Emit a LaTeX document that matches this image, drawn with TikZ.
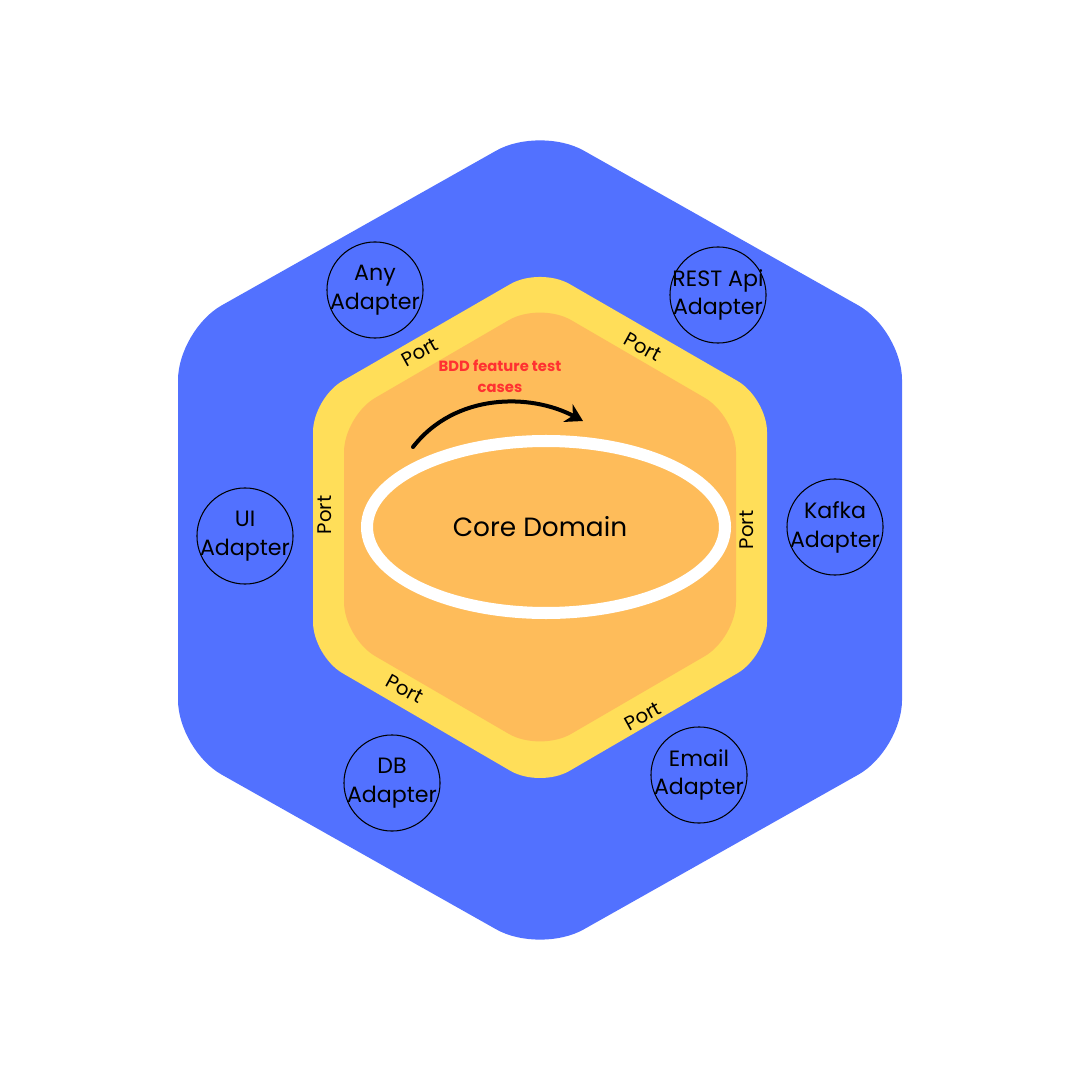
\documentclass[tikz,border=0pt]{standalone}
\usepackage{fontspec}
\setmainfont{Poppins}
\usetikzlibrary{arrows.meta}
\definecolor{hexblue}{HTML}{5271FF}
\definecolor{hexyellow}{HTML}{FFDE59}
\definecolor{hexorange}{HTML}{FEBC5A}
\definecolor{bddred}{HTML}{FF3131}
\begin{document}
\begin{tikzpicture}[x=0.01cm,y=-0.01cm,
    adaptertext/.style={align=center, inner sep=0pt, font=\fontsize{6.3}{8.2}\selectfont},
    adapter/.style={draw=black, line width=0.3pt, circle, minimum size=0.96cm, inner sep=0pt,
        label={[adaptertext]center:#1}},
    portlbl/.style={font=\fontsize{5.6}{6.5}\selectfont, inner sep=0pt}]
    \useasboundingbox (0,0) rectangle (1080,1080);
    \fill[white] (0,0) rectangle (1080,1080);

    % the three hexagons
    \fill[hexblue, rounded corners=0.5cm] (540,126) -- (902,330) -- (902,750) -- (540,954) -- (178,750) -- (178,330) -- cycle;
    \fill[hexyellow, rounded corners=0.34cm] (540,267) -- (767,398) -- (767,656) -- (540,788) -- (313,656) -- (313,398) -- cycle;
    \fill[hexorange, rounded corners=0.36cm] (540,302) -- (736,416) -- (736,638) -- (540,752) -- (344,638) -- (344,416) -- cycle;

    \draw[white, line width=0.12cm] (546,527) ellipse [x radius=179, y radius=86];
    \node (core) at (540,527) {\fontsize{7.5}{9}\selectfont Core Domain};

    % adapters
    \node[adapter={Any\\Adapter}] (any) at (375,290) {};
    \node[adapter={REST Api\\Adapter}] (rest) at (718,295) {};
    \node[adapter={UI\\Adapter}] (ui) at (245,536) {};
    \node[adapter={Kafka\\Adapter}] (kafka) at (835,527) {};
    \node[adapter={DB\\Adapter}] (db) at (392,783) {};
    \node[adapter={Email\\Adapter}] (email) at (699,775) {};

    % ports
    \node[portlbl, rotate=29] (portTL) at (420,352) {Port};
    \node[portlbl, rotate=-29] (portTR) at (643,347) {Port};
    \node[portlbl, rotate=90] (portL) at (325,515) {Port};
    \node[portlbl, rotate=90] (portR) at (747,530) {Port};
    \node[portlbl, rotate=-29] (portBL) at (405,689) {Port};
    \node[portlbl, rotate=29] (portBR) at (643,716) {Port};

    \node[bddred, align=center, font=\bfseries\fontsize{4.2}{6}\selectfont] (bdd) at (500,376) {BDD feature test\\cases};
    \coordinate (arrowstart) at (413,447);
    \coordinate (arrowend) at (583,421);
    \draw[black, line width=0.04cm, line cap=round, -{Stealth[length=0.17cm, width=0.2cm]}] (arrowstart) .. controls (455,393) and (530,393) .. (arrowend);

\end{tikzpicture}
\end{document}
